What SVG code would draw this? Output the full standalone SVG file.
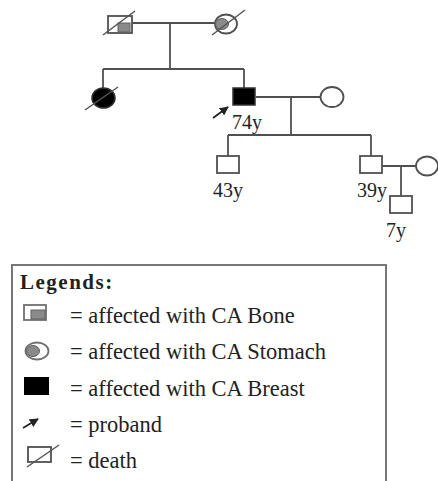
<svg xmlns="http://www.w3.org/2000/svg" width="438" height="481" viewBox="0 0 438 481">
<defs>
<style>
.ln{stroke:#505050;stroke-width:1.8;fill:none}
.nd{stroke:#505050;stroke-width:1.8;fill:#fff}
.aff{stroke:#303030;stroke-width:1.5;fill:#000}
.sh{fill:#8a8a8a;stroke:#606060;stroke-width:1}
.dl{stroke:#555;stroke-width:1.5}
.age{font-family:"Liberation Serif","Times New Roman",serif;font-size:20px;fill:#222}
.lg{font-family:"Liberation Serif","Times New Roman",serif;font-size:22.5px;fill:#222}
.lgh{font-family:"Liberation Serif","Times New Roman",serif;font-size:21px;font-weight:bold;letter-spacing:1.5px;fill:#222}
</style>
<marker id="ah" viewBox="0 0 10 10" refX="9" refY="5" markerWidth="5" markerHeight="5" orient="auto">
<path d="M0,0 L10,5 L0,10 z" fill="#222"/>
</marker>
</defs>
<rect width="438" height="481" fill="#fff"/>
<g id="connectors">
<line class="ln" x1="132" y1="23" x2="215" y2="23"/>
<line class="ln" x1="170" y1="23" x2="170" y2="69"/>
<line class="ln" x1="103" y1="69" x2="244" y2="69"/>
<line class="ln" x1="103" y1="69" x2="103" y2="88"/>
<line class="ln" x1="244" y1="69" x2="244" y2="88"/>
<line class="ln" x1="256" y1="97" x2="321" y2="97"/>
<line class="ln" x1="291" y1="97" x2="291" y2="135"/>
<line class="ln" x1="228" y1="135" x2="371" y2="135"/>
<line class="ln" x1="228" y1="135" x2="228" y2="156"/>
<line class="ln" x1="371" y1="135" x2="371" y2="156"/>
<line class="ln" x1="382" y1="166" x2="416" y2="166"/>
<line class="ln" x1="401" y1="166" x2="401" y2="196"/>
</g>
<g id="grandfather">
<rect class="nd" x="108" y="16" width="24" height="17"/>
<rect class="sh" x="118" y="23" width="12" height="9"/>
<line class="dl" x1="103" y1="35" x2="135" y2="11"/>
</g>
<g id="grandmother">
<ellipse class="nd" cx="226" cy="24" rx="11" ry="9.5"/>
<ellipse class="sh" cx="222" cy="24" rx="6.5" ry="5.5"/>
<line class="dl" x1="212" y1="35" x2="245" y2="10"/>
</g>
<g id="aunt">
<ellipse class="aff" cx="103.5" cy="98" rx="11.5" ry="10"/>
<line class="dl" x1="85" y1="110" x2="118" y2="87"/>
</g>
<g id="proband">
<rect class="aff" x="233" y="88" width="22" height="17"/>
<line x1="213" y1="118" x2="228" y2="107" stroke="#222" stroke-width="1.8" marker-end="url(#ah)"/>
<text class="age" x="232" y="129">74y</text>
</g>
<g id="wife">
<ellipse class="nd" cx="332" cy="97" rx="11.5" ry="10"/>
</g>
<g id="son1">
<rect class="nd" x="217" y="156" width="22" height="17"/>
<text class="age" x="213" y="197">43y</text>
</g>
<g id="son2">
<rect class="nd" x="360" y="156" width="22" height="17"/>
<text class="age" x="357" y="197">39y</text>
</g>
<g id="son2wife">
<ellipse class="nd" cx="427" cy="166" rx="11" ry="9.5"/>
</g>
<g id="grandson">
<rect class="nd" x="390" y="196" width="22" height="17"/>
<text class="age" x="386" y="237">7y</text>
</g>
<g id="legend">
<rect x="12" y="265" width="374" height="230" fill="#fff" stroke="#777" stroke-width="2"/>
<text class="lgh" x="20" y="289">Legends:</text>
<rect x="24" y="305" width="22" height="15" fill="#fff" stroke="#707070" stroke-width="1.8"/>
<rect class="sh" x="31" y="310" width="14" height="9"/>
<text class="lg" x="70" y="323">= affected with CA Bone</text>
<ellipse cx="37" cy="351" rx="11.5" ry="8.5" fill="#fff" stroke="#707070" stroke-width="1.8"/>
<ellipse class="sh" cx="33" cy="351" rx="6.5" ry="5.5"/>
<text class="lg" x="70" y="359">= affected with CA Stomach</text>
<rect x="24" y="377" width="25" height="18" fill="#000"/>
<text class="lg" x="70" y="396">= affected with CA Breast</text>
<line x1="23" y1="428" x2="38" y2="419" stroke="#222" stroke-width="1.8" marker-end="url(#ah)"/>
<text class="lg" x="70" y="432">= proband</text>
<rect x="28" y="447" width="23" height="15" fill="#fff" stroke="#505050" stroke-width="1.8"/>
<line class="dl" x1="27" y1="467" x2="59" y2="445"/>
<text class="lg" x="70" y="468">= death</text>
</g>
</svg>
